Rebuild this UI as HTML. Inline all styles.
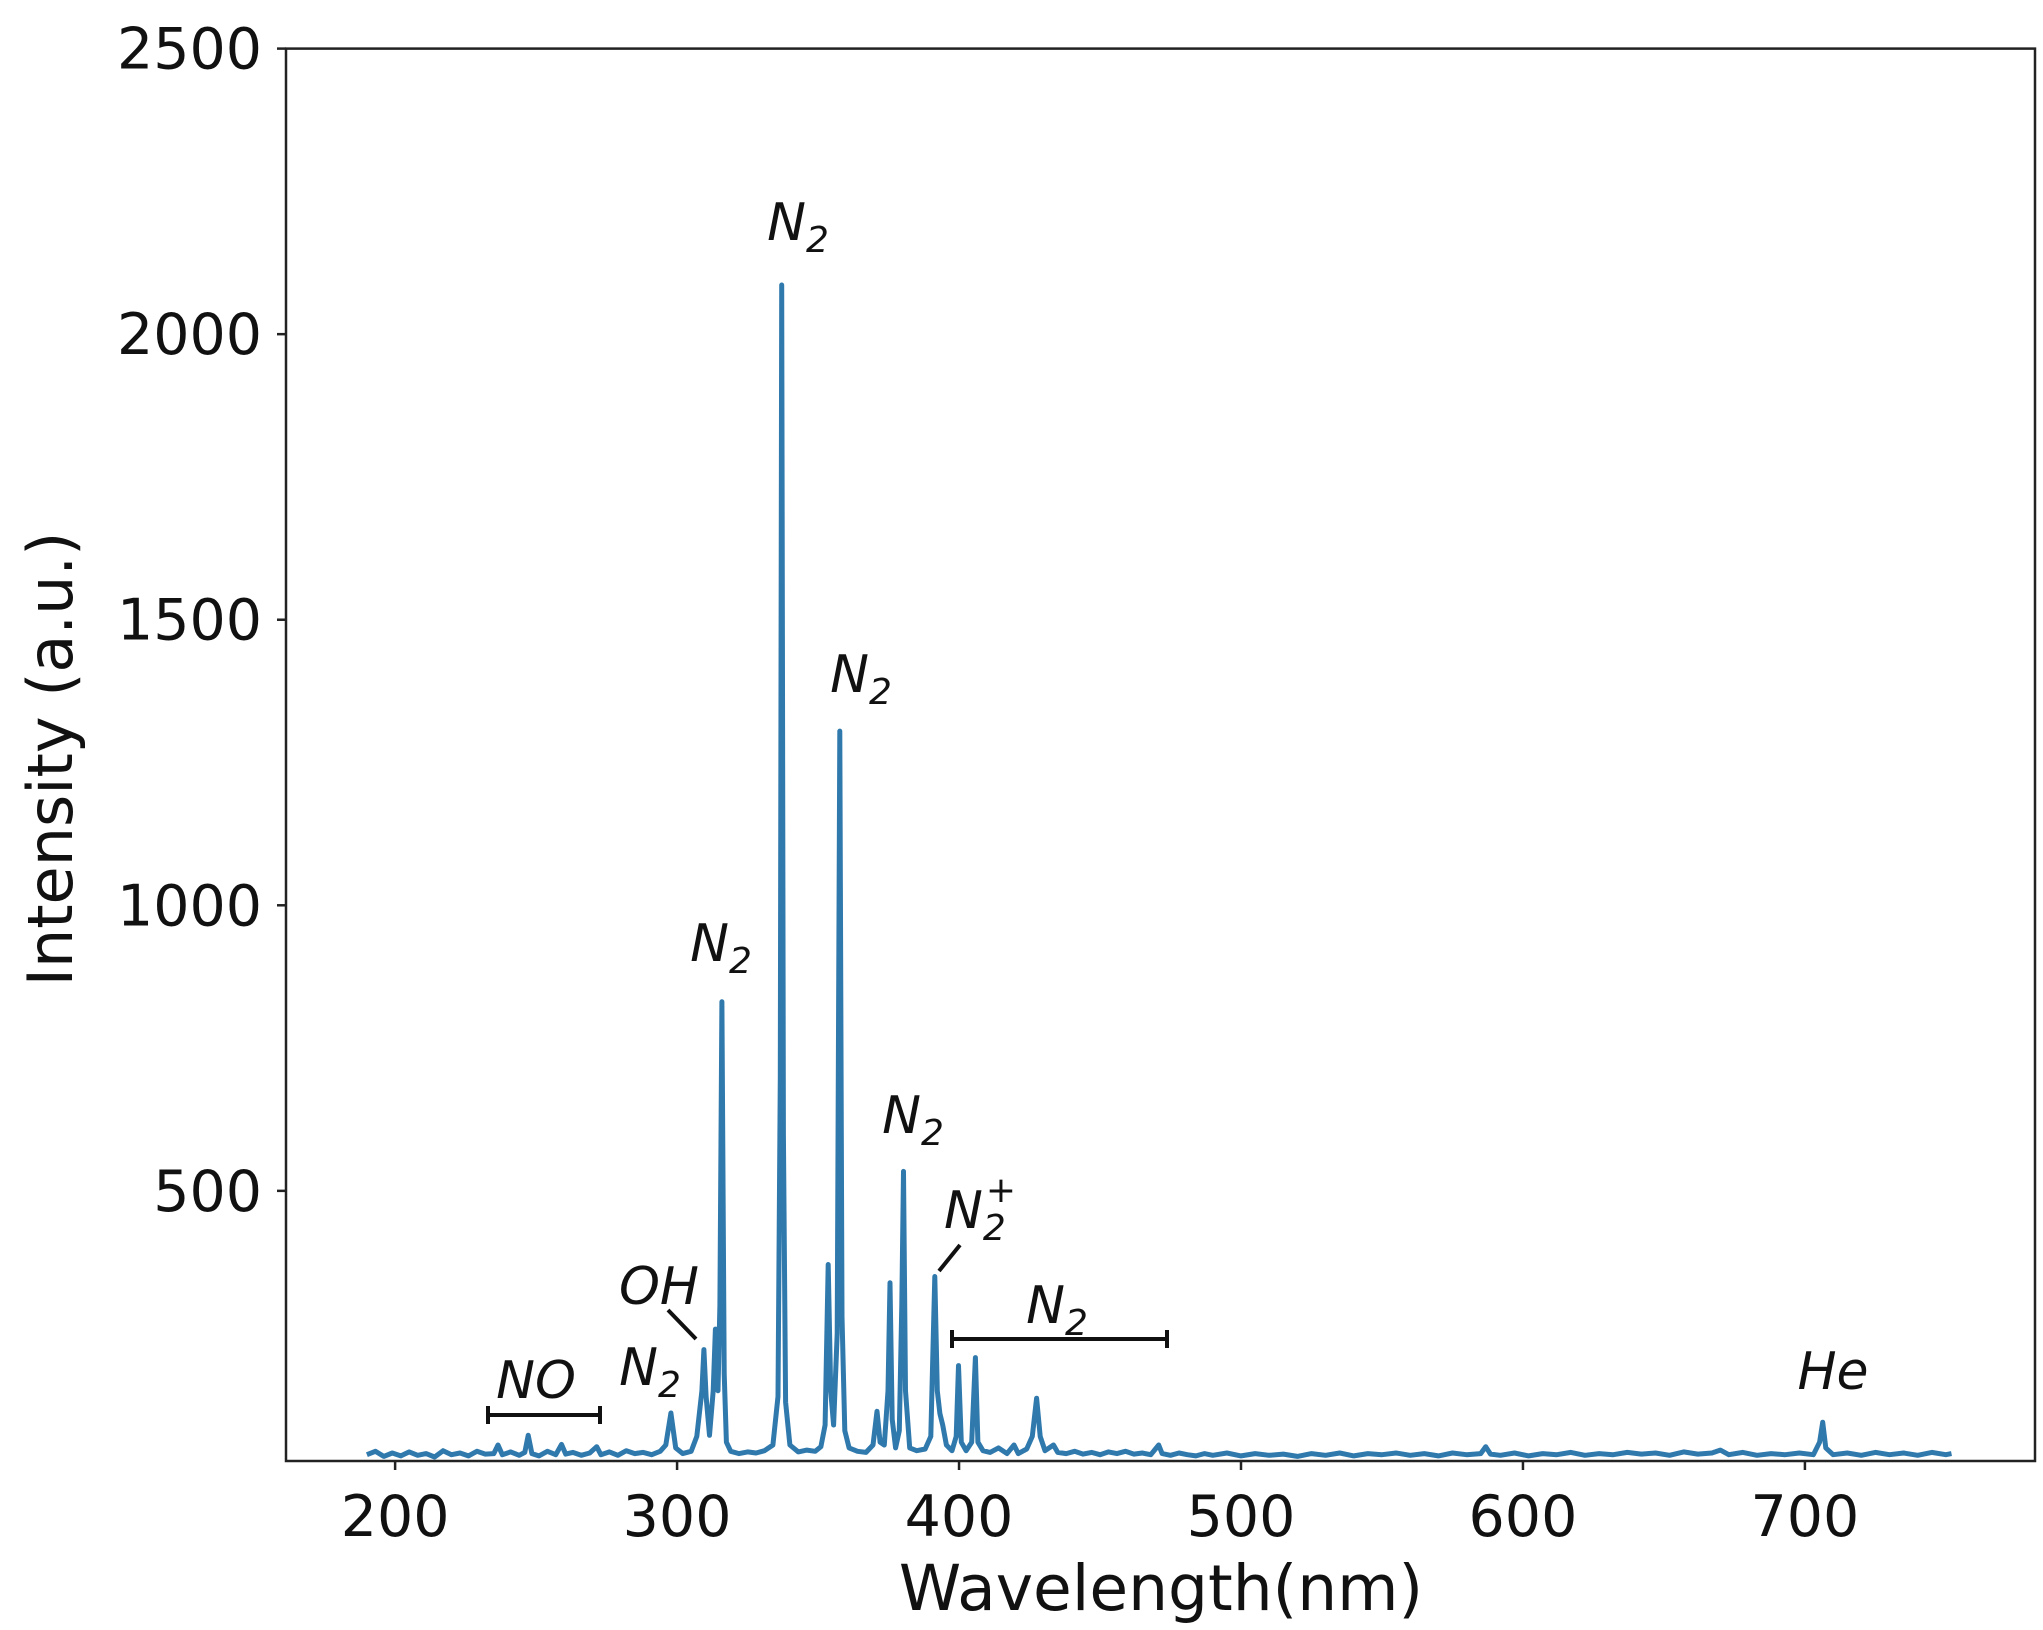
<!DOCTYPE html>
<html><head><meta charset="utf-8"><style>
html,body{margin:0;padding:0;background:#fff;}
svg{display:block;font-family:"DejaVu Sans","Liberation Sans",sans-serif;}
</style></head><body>
<svg id="chart" width="2043" height="1630" viewBox="0 0 2043 1630" xmlns="http://www.w3.org/2000/svg">
<rect width="2043" height="1630" fill="#fff"/>
<g id="ticks"></g>
<path id="series" fill="none" stroke="#3079ad" stroke-width="5" stroke-linejoin="round"/>
<rect x="286" y="48.6" width="1749" height="1412.4" fill="none" stroke="#222" stroke-width="2.5"/>
<text transform="translate(72,759) rotate(-90)" text-anchor="middle" font-size="62" fill="#111">Intensity (a.u.)</text>
<text x="1161" y="1610" text-anchor="middle" font-size="63" fill="#111">Wavelength(nm)</text>
<g font-style="italic" font-size="52" fill="#111" text-anchor="middle">
<text x="798" y="240">N<tspan font-size="36" dy="12">2</tspan></text>
<text x="721" y="961">N<tspan font-size="36" dy="12">2</tspan></text>
<text x="861" y="692">N<tspan font-size="36" dy="12">2</tspan></text>
<text x="913" y="1133">N<tspan font-size="36" dy="12">2</tspan></text>
<text x="980" y="1228">N<tspan font-size="36" dy="12">2</tspan><tspan font-size="36" dx="-20" dy="-38">+</tspan></text>
<text x="659" y="1304">OH</text>
<text x="650" y="1385">N<tspan font-size="36" dy="12">2</tspan></text>
<text x="536" y="1398">NO</text>
<text x="1057" y="1323">N<tspan font-size="36" dy="12">2</tspan></text>
<text x="1833" y="1389">He</text>
</g>
<g stroke="#111" stroke-width="4" fill="none">
<line x1="939" y1="1271" x2="960" y2="1245"/>
<line x1="668" y1="1310" x2="696" y2="1339"/>
<path d="M488 1415H600M488 1406V1424M600 1406V1424"/>
<path d="M952 1339H1167M952 1330V1348M1167 1330V1348"/>
</g>
</svg>
<script>
const wavelengths=[190,193,196,199,202,205,208,211,214,217,220,223,226,229,232,235,236.5,238,241,244,246,247.2,248.5,251,254,257,259,260.5,263,266,269,271.5,273,276,279,282,285,288,291,294,296,297.8,299.5,302,305,307,308.8,309.5,310.3,311.5,312.8,313.6,314.5,315.2,315.9,316.7,317.5,319,322,325,328,331,334,335.8,336.6,337.1,337.7,338.5,340,343,346,349,351,352.5,353.6,354.5,355.5,356.8,357.7,358.5,359.5,361,364,367,369.5,370.9,372,373.5,374.8,375.5,376.3,377.5,378.8,379.7,380.3,381,382.5,385,388,390,391.4,392.3,393.2,394.2,395.5,397.5,399,399.8,400.8,402.5,404.5,405.8,406.7,408.5,411,414,417,419.5,421,424,426,427.5,428.8,430.5,433.5,435,438,441,444,447,450,453,456,459,462,465,468,470.8,472,475,478,481,484,487,490,495,500,505,510,515,520,525,530,535,540,545,550,555,560,565,570,575,580,585,586.8,588.5,592,597,602,607,612,617,622,627,632,637,642,647,652,657,662,667,670,673,678,683,688,693,698,703,705.2,706.3,707.4,710,715,720,725,730,735,740,745,750,752];
const intensities=[38,44,35,41,36,43,37,40,34,45,38,41,36,44,39,40,55,38,43,37,42,72,40,36,44,38,56,39,42,37,41,52,38,43,37,45,40,42,38,44,55,111,50,40,44,70,150,222,140,72,150,258,150,300,831,180,60,44,40,43,41,45,55,140,700,2086,600,130,55,43,46,44,52,90,371,150,90,250,1305,280,80,50,44,42,55,114,60,55,150,339,100,50,80,300,534,150,50,45,48,70,350,150,110,90,55,45,70,194,60,45,60,208,60,45,42,50,40,55,40,48,70,137,70,45,55,42,40,44,39,42,38,43,40,44,39,41,38,55,40,37,41,38,36,40,37,41,36,40,37,39,35,40,37,41,36,40,38,41,37,40,36,41,38,40,52,39,37,41,36,40,38,42,37,40,38,42,39,41,37,43,39,41,46,38,42,37,40,38,41,38,60,95,50,38,41,37,42,38,41,37,42,38,40];
const xTicks=[200,300,400,500,600,700];
const yTicks=[500,1000,1500,2000,2500];
const X0=286,X1=2035,Y0=48.6,Y1=1461;
const xmin=161.3,xmax=781.6,ymin=27,ymax=2500;
function xs(v){return X0+(v-xmin)/(xmax-xmin)*(X1-X0);}
function ys(v){return Y1-(v-ymin)/(ymax-ymin)*(Y1-Y0);}
const NS='http://www.w3.org/2000/svg';
let d='';
for(let i=0;i<wavelengths.length;i++){d+=(i?'L':'M')+xs(wavelengths[i]).toFixed(1)+' '+ys(intensities[i]).toFixed(1);}
document.getElementById('series').setAttribute('d',d);
const g=document.getElementById('ticks');
xTicks.forEach(v=>{
 const l=document.createElementNS(NS,'line');
 
 
 l.setAttribute('x1',xs(v));l.setAttribute('x2',xs(v));l.setAttribute('y1',Y1);l.setAttribute('y2',Y1+9);
 l.setAttribute('stroke','#222');l.setAttribute('stroke-width','2.5');g.appendChild(l);
 const t=document.createElementNS(NS,'text');
 
 
 t.setAttribute('x',xs(v));t.setAttribute('y',1536);t.setAttribute('text-anchor','middle');
 t.setAttribute('font-size','57');t.setAttribute('fill','#111');t.textContent=v;g.appendChild(t);
});
yTicks.forEach(v=>{
 const l=document.createElementNS(NS,'line');
 
 
 l.setAttribute('x1',X0-9);l.setAttribute('x2',X0);l.setAttribute('y1',ys(v));l.setAttribute('y2',ys(v));
 l.setAttribute('stroke','#222');l.setAttribute('stroke-width','2.5');g.appendChild(l);
 const t=document.createElementNS(NS,'text');
 
 
 t.setAttribute('x',262);t.setAttribute('y',ys(v)+20);t.setAttribute('text-anchor','end');
 t.setAttribute('font-size','57');t.setAttribute('fill','#111');t.textContent=v;g.appendChild(t);
});
</script>
</body></html>
